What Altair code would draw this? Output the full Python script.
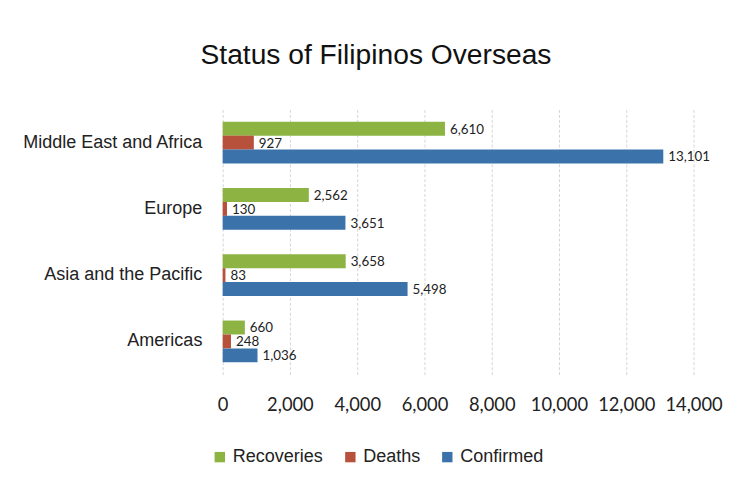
import altair as alt
import pandas as pd

regions = ["Middle East and Africa", "Europe", "Asia and the Pacific", "Americas"]
series = ["Recoveries", "Deaths", "Confirmed"]
recoveries = [6610, 2562, 3658, 660]
deaths = [927, 130, 83, 248]
confirmed = [13101, 3651, 5498, 1036]
x_ticks = [0, 2000, 4000, 6000, 8000, 10000, 12000, 14000]
colors = ["#8DB343", "#B8513C", "#3C72AA"]

rows = []
for i, r in enumerate(regions):
    for s, vals in zip(series, [recoveries, deaths, confirmed]):
        rows.append({"region": r, "series": s, "value": vals[i]})
df = pd.DataFrame(rows)

SANS = "Liberation Sans, Arial, sans-serif"

base = alt.Chart(df).encode(
    y=alt.Y("region:N", sort=regions, title=None,
            scale=alt.Scale(paddingInner=0.37, paddingOuter=0.185),
            axis=alt.Axis(domain=False, ticks=False, labelPadding=21,
                          labelFont=SANS, labelFontSize=18.2, labelColor="#222222",
                          labelLimit=300)),
    yOffset=alt.YOffset("series:N", sort=series,
                        scale=alt.Scale(paddingInner=0, paddingOuter=0)),
    x=alt.X("value:Q", title=None,
            scale=alt.Scale(domain=[0, 14000], nice=False),
            axis=alt.Axis(values=x_ticks, labelExpr="format(datum.value, ',.0f')",
                          domain=False, ticks=False,
                          labelPadding=21, labelFont="Lato", labelFontSize=18.5,
                          labelColor="#222222", labelFlush=False,
                          grid=True, gridColor="#d4d4d4", gridDash=[3, 2])),
)

bars = base.mark_bar().encode(
    color=alt.Color("series:N", sort=series,
                    scale=alt.Scale(domain=series, range=colors),
                    legend=alt.Legend(title=None, orient="none", direction="horizontal",
                                      legendX=-12, legendY=342, padding=0,
                                      symbolType="square", symbolSize=110,
                                      symbolStrokeWidth=0, labelOffset=4,
                                      columnPadding=18, labelFont=SANS,
                                      labelFontSize=18.2, labelColor="#222222"))
)

labels = base.mark_text(align="left", baseline="middle", dx=5, dy=1,
                        font="Lato", fontSize=13.5, color="#222222").encode(
    text=alt.Text("value:Q", format=",")
)

chart = (bars + labels).properties(
    width=476, height=268,
    autosize=alt.AutoSizeParams(type="none"),
    padding={"left": 217, "top": 100, "right": 48, "bottom": 102},
    title=alt.Title("Status of Filipinos Overseas", font=SANS, fontSize=28.5,
                    fontWeight="normal", color="#111111", anchor="middle",
                    frame="group", dx=-83, offset=17, baseline="alphabetic"),
).configure_view(stroke=None)

chart.save("out.html", embed_options={"renderer": "svg", "actions": False})
